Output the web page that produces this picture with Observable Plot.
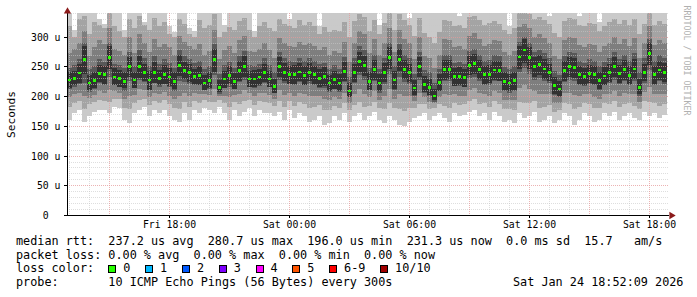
<!DOCTYPE html>
<html><head><meta charset="utf-8">
<script src="https://cdn.jsdelivr.net/npm/d3@7"></script>
<script src="https://cdn.jsdelivr.net/npm/@observablehq/plot@0.6"></script>
<style>
body{margin:0;background:#fff}
#wrap{position:relative;width:697px;height:297px;font-family:"DejaVu Sans Mono",monospace;overflow:hidden}
#wrap svg{position:absolute;left:0;top:0}
.leg{position:absolute;font-size:11.8px;white-space:pre;line-height:13.7px;color:#000}
.box{position:absolute;width:6px;height:6px;border:1px solid #000}
</style></head><body><div id="wrap"></div>
<script>
// ---- time base (RRD steps) ----
const startTime = new Date(Date.UTC(2026,0,23,12,55));
const endTime = new Date(Date.UTC(2026,0,24,19,0));
const stepMinutes = 15;

// ---- median rtt (microseconds) ----
const median = [227,230,239,262,222,226,238,236,265,232,
230,225,250,227,250,240,227,240,230,237,
232,225,252,243,240,233,235,222,226,262,
215,229,235,225,243,250,229,229,232,240,
229,216,250,240,236,236,241,235,240,236,
230,233,222,228,222,242,209,240,258,252,
225,245,222,240,265,227,262,245,240,214,
250,220,215,200,223,245,245,233,233,231,
252,255,245,236,237,244,243,225,222,226,
266,278,265,250,253,246,240,218,212,243,
250,248,236,233,238,236,226,234,240,250,
238,245,235,246,215,240,272,236,244,240];

// ---- ping rtts per step (10 pings, sorted at draw time) ----
const ping1 = [160,171,177,157,166,174,177,177,171,182,180,160,155,171,177,182,166,177,171,177,166,160,157,171,160,177,171,180,177,171,182,171,160,177,166,174,180,166,177,171,171,166,174,160,177,163,171,166,157,160,166,152,155,166,160,171,157,166,171,160,166,174,160,155,166,160,152,150,157,163,166,171,160,166,171,163,157,171,166,168,174,177,166,171,160,174,166,157,160,155,171,163,166,174,157,160,166,155,160,171,166,152,160,171,166,157,160,171,166,174,160,166,171,163,160,174,166,171,163,168];
const ping2 = [182,188,192,178,186,190,194,192,190,196,195,180,178,188,194,196,185,192,189,193,186,180,178,190,182,192,189,193,191,190,194,188,181,191,186,192,194,185,192,190,188,183,192,182,192,184,190,186,180,181,185,176,176,184,180,189,176,185,190,182,184,191,180,178,188,180,178,175,180,180,186,187,178,180,187,184,180,188,185,186,192,195,186,189,182,192,186,178,179,177,191,188,188,192,180,182,185,174,177,189,186,178,181,188,186,180,180,188,186,192,182,186,189,184,178,192,190,189,184,187];
const ping3 = [198,203,206,200,197,202,208,205,210,208,206,195,200,202,212,210,199,206,203,207,201,196,200,206,200,205,204,203,202,212,201,201,198,202,204,210,206,200,205,206,202,196,210,202,206,201,206,203,200,200,200,196,193,199,195,206,189,203,212,204,198,208,194,200,212,196,204,200,201,192,206,198,191,188,199,204,202,203,201,201,210,213,205,204,200,208,205,194,193,194,214,218,212,209,204,204,203,189,189,206,206,202,200,203,203,199,196,203,204,209,201,205,204,204,191,207,216,204,204,204];
const ping4 = [212,215,220,222,207,213,222,219,232,219,216,208,225,213,228,224,211,222,215,220,215,208,226,224,220,218,219,211,213,235,207,214,216,212,224,228,216,214,217,222,215,205,228,222,220,218,224,219,221,219,214,214,207,212,207,224,198,222,235,228,210,226,206,221,238,210,232,224,221,201,228,207,201,193,209,226,225,217,217,215,230,233,226,219,219,226,225,208,206,209,240,248,238,228,230,226,222,202,198,224,228,226,219,217,221,218,210,218,222,228,220,226,219,226,201,223,244,219,225,221];
const ping5 = [214,219,222,238,211,212,224,220,245,219,216,213,232,214,231,226,211,222,218,221,217,212,234,229,224,220,219,211,212,241,204,214,220,212,226,232,215,216,218,224,215,205,232,225,221,220,226,219,225,221,215,217,209,212,209,226,198,224,240,234,211,228,208,224,245,212,242,229,224,202,233,206,202,191,209,228,229,217,219,215,235,238,229,220,222,228,226,210,208,211,246,256,246,233,236,229,225,204,200,226,233,231,221,218,222,221,212,219,224,233,222,228,220,229,203,225,252,221,227,224];
const ping6 = [240,243,255,284,236,241,252,250,284,247,244,240,266,241,268,255,243,257,244,252,247,240,270,258,255,246,251,235,240,280,228,243,251,239,259,267,243,244,246,255,243,229,266,256,251,252,256,250,256,251,245,249,236,243,237,257,222,255,275,268,240,261,237,256,282,242,280,261,255,228,266,234,229,212,237,261,261,248,249,246,268,271,261,251,252,260,259,240,237,241,284,296,283,266,269,262,255,233,226,259,266,264,251,248,253,251,241,249,255,266,253,261,250,262,229,255,290,251,260,256];
const ping7 = [248,252,262,290,245,251,262,258,290,255,252,248,275,250,278,265,250,268,254,262,256,248,278,268,262,256,260,245,250,288,238,252,258,248,268,276,252,250,255,264,252,240,274,265,260,258,265,260,264,260,254,256,245,252,246,266,232,264,284,278,248,270,246,264,290,250,288,270,264,238,275,244,240,222,246,270,270,256,257,255,276,280,270,260,261,269,268,249,246,250,292,300,290,275,278,272,264,242,236,268,275,272,260,256,262,260,250,258,264,275,262,270,259,272,240,264,296,260,269,265];
const ping8 = [272,280,290,310,268,282,295,288,315,280,276,270,300,272,305,290,275,296,282,288,282,270,302,292,285,280,288,270,276,312,262,278,284,272,294,302,276,275,280,290,278,265,298,290,285,282,292,286,290,285,278,282,270,276,272,292,258,290,310,304,272,296,270,290,315,275,312,296,290,262,300,268,265,248,270,296,295,282,284,280,302,306,296,285,288,294,293,274,270,276,316,322,314,300,304,298,290,268,262,294,300,298,286,282,288,286,275,284,290,300,288,296,285,298,265,290,318,286,295,290];
const ping9 = [318,300,330,335,305,325,320,315,340,318,310,300,330,315,335,320,312,332,318,325,305,300,330,322,305,300,328,315,320,338,300,308,316,312,326,332,312,300,318,325,315,310,330,322,318,315,328,320,325,318,305,316,308,312,310,325,300,326,338,334,310,328,305,324,340,312,338,328,320,302,332,306,300,290,308,328,326,318,320,315,333,335,328,320,324,326,322,312,305,314,340,342,338,330,334,328,322,306,300,326,332,330,320,318,324,322,310,318,325,330,322,328,320,330,305,322,340,320,326,322];
const ping10 = [350,312,350,360,350,350,330,322,360,350,345,312,350,350,355,325,350,350,350,350,318,308,350,350,315,310,350,350,350,360,345,320,350,350,350,355,350,310,350,350,350,350,355,350,330,350,350,350,350,345,318,350,350,350,350,350,345,350,360,355,350,350,320,350,360,350,360,350,332,350,355,350,345,340,350,350,350,350,335,350,355,358,350,350,350,350,340,350,318,350,360,365,360,350,355,350,335,350,345,350,355,350,335,350,350,350,325,350,350,352,350,350,340,350,350,350,362,350,350,345];

// ---- axes / legend texts ----
const yMax = 340;
const yTicks = [0,50,100,150,200,250,300];
const yMinorTicks = [10,20,30,40,60,70,80,90,110,120,130,140,160,170,180,190,210,220,230,240,260,270,280,290,310,320,330,340];
const xLabelTicks = [new Date(Date.UTC(2026,0,23,18)),new Date(Date.UTC(2026,0,24,0)),new Date(Date.UTC(2026,0,24,6)),new Date(Date.UTC(2026,0,24,12)),new Date(Date.UTC(2026,0,24,18))];
const smokeColors = ["#cacaca","#a4a4a4","#7e7e7e","#585858","#323232"];
const lossLabels = ["0","1","2","3","4","5","6-9","10/10"];
const lossColors = ["#26ff00","#00b8ff","#0059ff","#7e00ff","#ff00ff","#ff5500","#ff0000","#a10000"];
const rttStats = ["237.2 us avg","280.7 us max","196.0 us min","231.3 us now","0.0 ms sd","15.7   am/s"];
const lossStats = ["0.00 % avg","0.00 % max","0.00 % min","0.00 % now"];
const probeText = "10 ICMP Echo Pings (56 Bytes) every 300s";
const stampText = "Sat Jan 24 18:52:09 2026";

const pings = [ping1,ping2,ping3,ping4,ping5,ping6,ping7,ping8,ping9,ping10];
const rows = median.map((m,i)=>({
  t0: new Date(startTime.getTime()+i*stepMinutes*60000),
  t1: new Date(startTime.getTime()+(i+1)*stepMinutes*60000),
  m,
  p: pings.map(a=>a[i]).sort((a,b)=>a-b)
}));
const hours = d3.utcHour.range(new Date(Date.UTC(2026,0,23,13)), endTime);
const majorHours = hours.filter(d=>d.getUTCHours()%3===0);
const minorHours = hours.filter(d=>d.getUTCHours()%3!==0);

const mono = '"DejaVu Sans Mono", monospace';
const bandMarks = smokeColors.map((c,k)=>Plot.rect(rows,{x1:"t0",x2:"t1",y1:d=>d.p[k],y2:d=>d.p[9-k],fill:c,clip:true,shapeRendering:"crispEdges"}));

const chart = Plot.plot({
  width:697, height:234,
  marginLeft:67, marginRight:28, marginTop:13, marginBottom:19,
  x:{type:"utc", domain:[startTime,endTime], round:true},
  y:{domain:[0,yMax], round:true},
  style:{fontFamily:mono, fontSize:"9.8px", color:"#000", background:"transparent", overflow:"visible"},
  marks:[
    ...bandMarks,
    Plot.ruleY(yMinorTicks,{stroke:"#c8c8c8",strokeOpacity:0.6,strokeDasharray:"1,1"}),
    Plot.ruleX(minorHours,{stroke:"#c8c8c8",strokeOpacity:0.6,strokeDasharray:"1,1"}),
    Plot.ruleY(yTicks.filter(d=>d>0),{stroke:"#e59a9a",strokeOpacity:0.75,strokeDasharray:"1,1"}),
    Plot.ruleX(majorHours,{stroke:"#e59a9a",strokeOpacity:0.75,strokeDasharray:"1,1"}),
    Plot.rect(rows,{x1:"t0",x2:"t1",y1:d=>d.m-2.2,y2:d=>d.m+2.2,insetLeft:1,insetRight:1,fill:lossColors[0],shapeRendering:"crispEdges"}),
    Plot.axisY({ticks:yTicks, tickFormat:d=>d===0?"0\u00a0\u00a0":`${d} u`, tickSize:3, tickPadding:4, label:null}),
    Plot.axisX({ticks:xLabelTicks, tickFormat:d3.utcFormat("%a %H:%M"), tickSize:3, tickPadding:3, label:null}),
    Plot.ruleY([0],{stroke:"#000"}),
    Plot.ruleX([startTime],{stroke:"#000"}),
    Plot.dot([{t:endTime,v:0}],{x:"t",y:"v",symbol:"triangle",rotate:90,r:2.7,fill:"#8b1a1a",stroke:"none",dx:2}),
    Plot.dot([{t:startTime,v:yMax}],{x:"t",y:"v",symbol:"triangle",r:2.7,fill:"#8b1a1a",stroke:"none",dy:-2}),
    Plot.text(["Seconds"],{frameAnchor:"left",text:d=>d,dx:-56.5,rotate:-90,fontSize:11.1,fontFamily:mono,fill:"#000",textAnchor:"middle",lineAnchor:"middle"}),
    Plot.text(["RRDTOOL / TOBI OETIKER"],{frameAnchor:"top-right",text:d=>d,dx:17.5,dy:-8,rotate:90,textAnchor:"start",lineAnchor:"middle",fontSize:8.3,fontFamily:mono,fill:"#b0b0b0"})
  ]
});
const wrap = document.getElementById("wrap");
wrap.appendChild(chart);

// ---- legend ----
const legTop = 235, lh = 13.7, cw = 7.1, legLeft = 16;
function addText(txt, x, y){
  const d = document.createElement("div");
  d.className = "leg"; d.textContent = txt;
  d.style.left = x+"px"; d.style.top = y+"px";
  wrap.appendChild(d);
}
addText("median rtt:  " + rttStats.join("  "), legLeft, legTop);
addText("packet loss: " + lossStats.join("  "), legLeft, legTop+lh);
addText("loss color:", legLeft, legTop+2*lh);
let bx = 108.3;
lossLabels.forEach((lab,i)=>{
  const b = document.createElement("div");
  b.className = "box"; b.style.background = lossColors[i];
  b.style.left = bx+"px"; b.style.top = "264.7px";
  wrap.appendChild(b);
  addText(lab, bx+15, legTop+2*lh);
  bx += 15 + lab.length*cw + 14.7;
});
addText("probe:       " + probeText, legLeft, legTop+3*lh);
addText(stampText, legLeft+70*cw, legTop+3*lh);
</script></body></html>
